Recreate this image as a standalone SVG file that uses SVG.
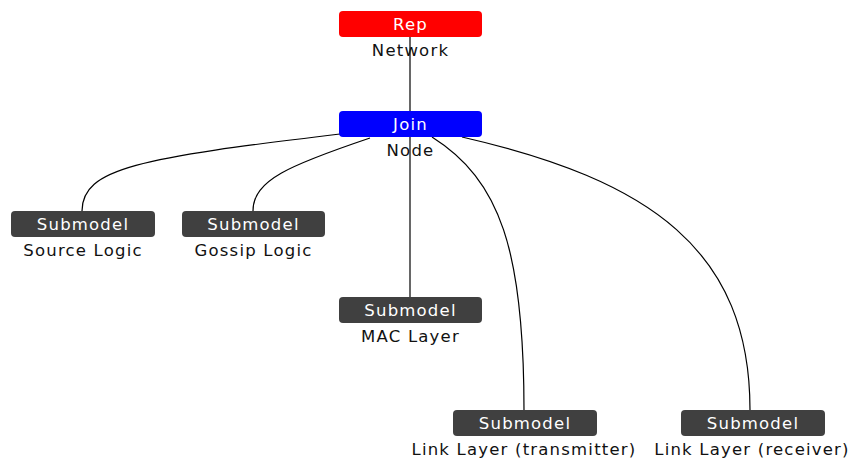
<svg xmlns="http://www.w3.org/2000/svg" width="850" height="461" viewBox="0 0 850 461">
<style>
.box{stroke:none}
.sub{fill:#404040}
.bt{font-family:"DejaVu Sans",sans-serif;font-size:16.5px;fill:#ffffff;text-anchor:middle;letter-spacing:1.2px}
.lt{font-family:"DejaVu Sans",sans-serif;font-size:16.5px;fill:#111111;text-anchor:middle;letter-spacing:1.2px}
.edge{fill:none;stroke:#000000;stroke-width:1.2}
</style>
<rect width="850" height="461" fill="#ffffff"/>
<g id="connectors">
<path class="edge" d="M410,37 L410,111"/>
<path class="edge" d="M410,137 L410,297"/>
<path class="edge" d="M340,134 C140,158 82,168 82,211"/>
<path class="edge" d="M370,138 C290,165 253,180 253,211"/>
<path class="edge" d="M432,137 C500,180 524,250 524,410"/>
<path class="edge" d="M462,137 C650,180 750,250 750,410"/>
</g>
<g id="rep">
<rect class="box" x="339" y="11" width="143" height="26" rx="4" fill="#ff0000"/>
<text class="bt" x="410.5" y="30">Rep</text>
<text class="lt" x="410.5" y="56">Network</text>
</g>
<g id="join">
<rect class="box" x="339" y="111" width="143" height="26" rx="4" fill="#0000ff"/>
<text class="bt" x="410.5" y="130">Join</text>
<text class="lt" x="410.5" y="156">Node</text>
</g>
<g id="source">
<rect class="box sub" x="11" y="211" width="144" height="26" rx="4"/>
<text class="bt" x="83" y="230">Submodel</text>
<text class="lt" x="83" y="256">Source Logic</text>
</g>
<g id="gossip">
<rect class="box sub" x="182" y="211" width="143" height="26" rx="4"/>
<text class="bt" x="253.5" y="230">Submodel</text>
<text class="lt" x="253.5" y="256">Gossip Logic</text>
</g>
<g id="mac">
<rect class="box sub" x="339" y="297" width="143" height="26" rx="4"/>
<text class="bt" x="410.5" y="316">Submodel</text>
<text class="lt" x="410.5" y="342">MAC Layer</text>
</g>
<g id="transmitter">
<rect class="box sub" x="453" y="410" width="144" height="26" rx="4"/>
<text class="bt" x="525" y="429">Submodel</text>
<text class="lt" x="524" y="455">Link Layer (transmitter)</text>
</g>
<g id="receiver">
<rect class="box sub" x="681" y="410" width="144" height="26" rx="4"/>
<text class="bt" x="753" y="429">Submodel</text>
<text class="lt" x="752" y="455">Link Layer (receiver)</text>
</g>
</svg>
